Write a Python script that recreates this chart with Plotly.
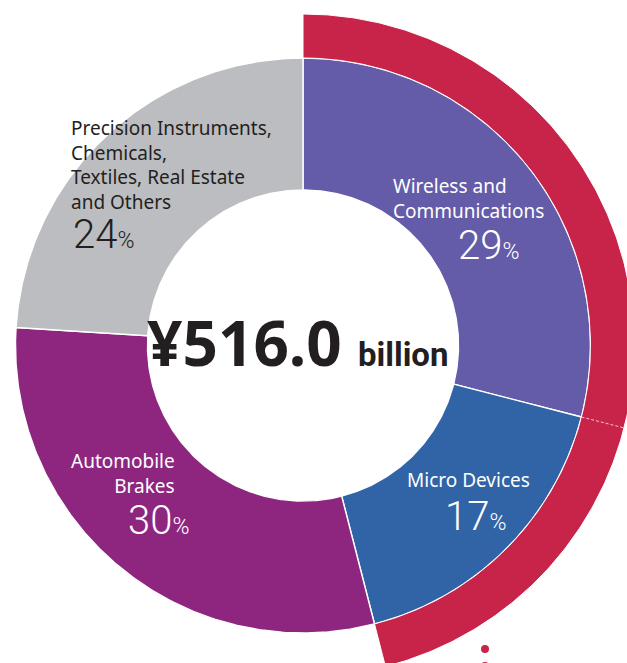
import numpy as np
import plotly.graph_objects as go

# Segment data (share of net sales, %)
segments = ["Wireless and Communications", "Micro Devices", "Automobile Brakes",
            "Precision Instruments, Chemicals, Textiles, Real Estate and Others"]
shares = [29, 17, 30, 24]
seg_colors = ["#645CA9", "#3064A6", "#8E2680", "#BCBDC0"]

# Label text drawn inside each slice
label_text = [
    "Wireless and<br>Communications",
    "Micro Devices",
    "Automobile<br>Brakes",
    "Precision Instruments,<br>Chemicals,<br>Textiles, Real Estate<br>and Others",
]

# Outer highlight ring covers the electronics segments
ring_members = ["Wireless and Communications", "Micro Devices"]
ring_color = "#C82349"

total_label = "¥516.0"
total_unit = "billion"

# Geometry (unit = outer radius of the donut)
R_OUT = 1.0
R_HOLE = 0.541
R_RING = 1.153
SCALE = 287.5          # pixels per unit
CX, CY = 303.0, 345.5  # donut centre in page pixels
W, H = 627, 663


def px(x, y):
    """Page pixel position -> data coordinates."""
    return (x - CX) / SCALE, (CY - y) / SCALE


def wedge(r0, r1, a0, a1):
    """Annular wedge between clockwise angles a0..a1 (degrees from 12 o'clock)."""
    n = max(int(abs(a1 - a0) * 2), 4)
    t = np.radians(np.linspace(a0, a1, n))
    xo, yo = r1 * np.sin(t), r1 * np.cos(t)
    xi, yi = r0 * np.sin(t[::-1]), r0 * np.cos(t[::-1])
    xs = np.concatenate([xo, xi, xo[:1]])
    ys = np.concatenate([yo, yi, yo[:1]])
    return xs, ys


fig = go.Figure()

# Donut slices
cum = np.concatenate([[0], np.cumsum(shares)]) / sum(shares) * 360.0
for name, a0, a1, col in zip(segments, cum[:-1], cum[1:], seg_colors):
    xs, ys = wedge(R_HOLE, R_OUT, a0, a1)
    fig.add_trace(go.Scatter(x=xs, y=ys, fill="toself", fillcolor=col, mode="lines",
                             line=dict(color="white", width=1.4), name=name,
                             hoverinfo="name", showlegend=False))

# Outer ring spanning the highlighted segments
idx = [segments.index(m) for m in ring_members]
ring_a0, ring_a1 = cum[min(idx)], cum[max(idx) + 1]
xs, ys = wedge(R_OUT, R_RING, ring_a0, ring_a1)
fig.add_trace(go.Scatter(x=xs, y=ys, fill="toself", fillcolor=ring_color, mode="lines",
                         line=dict(color="white", width=1), name="Electronics",
                         hoverinfo="name", showlegend=False))

# Dashed divider inside the ring at the boundary between its members
for k in idx[:-1]:
    a = np.radians(cum[k + 1])
    fig.add_trace(go.Scatter(x=[R_OUT * np.sin(a), R_RING * np.sin(a)],
                             y=[R_OUT * np.cos(a), R_RING * np.cos(a)],
                             mode="lines", hoverinfo="skip", showlegend=False,
                             line=dict(color="rgba(255,255,255,0.75)", width=1, dash="3px,2px")))

NAME_FONT = "Noto Sans, sans-serif"
PCT_FONT = "Roboto, sans-serif"
DARK = "#231F20"

annotations = []


def add_text(text, x, y, size, color, family, xanchor="center", align="center",
             yanchor="middle", weight="normal"):
    ax, ay = px(x, y)
    annotations.append(dict(x=ax, y=ay, xref="x", yref="y", text=text, showarrow=False,
                            xanchor=xanchor, yanchor=yanchor, align=align,
                            font=dict(size=size, color=color, family=family, weight=weight)))


def pct(v):
    return f"{v}<span style='font-size:23px'>%</span>"


# Segment names: (anchor x, block centre y, anchor, colour)
name_layout = [
    (391, 198, "left", "white"),
    (468, 480, "center", "white"),
    (177, 473, "right", "white"),
    (69, 165, "left", DARK),
]
for text, (x0, y0, anchor, col) in zip(label_text, name_layout):
    add_text(text, x0, y0, 19, col, NAME_FONT, xanchor=anchor, align=anchor)

# Segment percentages
pct_layout = [
    (488, 245, "center", "white"),
    (475, 516, "center", "white"),
    (158, 520, "center", "white"),
    (71, 234, "left", DARK),
]
for v, (x0, y0, anchor, col) in zip(shares, pct_layout):
    add_text(pct(v), x0, y0, 40, col, PCT_FONT, xanchor=anchor, align=anchor, weight=300)

# Total in the centre
ax, ay = px(298, 342)
annotations.append(dict(
    x=ax, y=ay, xref="x", yref="y", showarrow=False, xanchor="center", yanchor="middle",
    text=(f"<b>{total_label}</b> <span style='font-family:Roboto;font-size:33px'>"
          f"<b>{total_unit}</b></span>"),
    font=dict(size=62, color=DARK, family="Noto Sans, sans-serif")))

# Leader dots below the ring
dots = []
for cy in (649, 666):
    dots.append(dict(type="circle", xref="paper", yref="paper",
                     x0=481 / W, x1=489 / W, y0=1 - (cy + 4) / H, y1=1 - (cy - 4) / H,
                     fillcolor=ring_color, line=dict(width=0)))

x_lo, y_hi = px(0, 0)
x_hi, y_lo = px(W, H)
fig.update_layout(
    width=W, height=H, margin=dict(l=0, r=0, t=0, b=0),
    paper_bgcolor="white", plot_bgcolor="white",
    xaxis=dict(range=[x_lo, x_hi], visible=False, fixedrange=True),
    yaxis=dict(range=[y_lo, y_hi], visible=False, fixedrange=True),
    annotations=annotations, shapes=dots, showlegend=False,
)

fig.write_html("out.html")
